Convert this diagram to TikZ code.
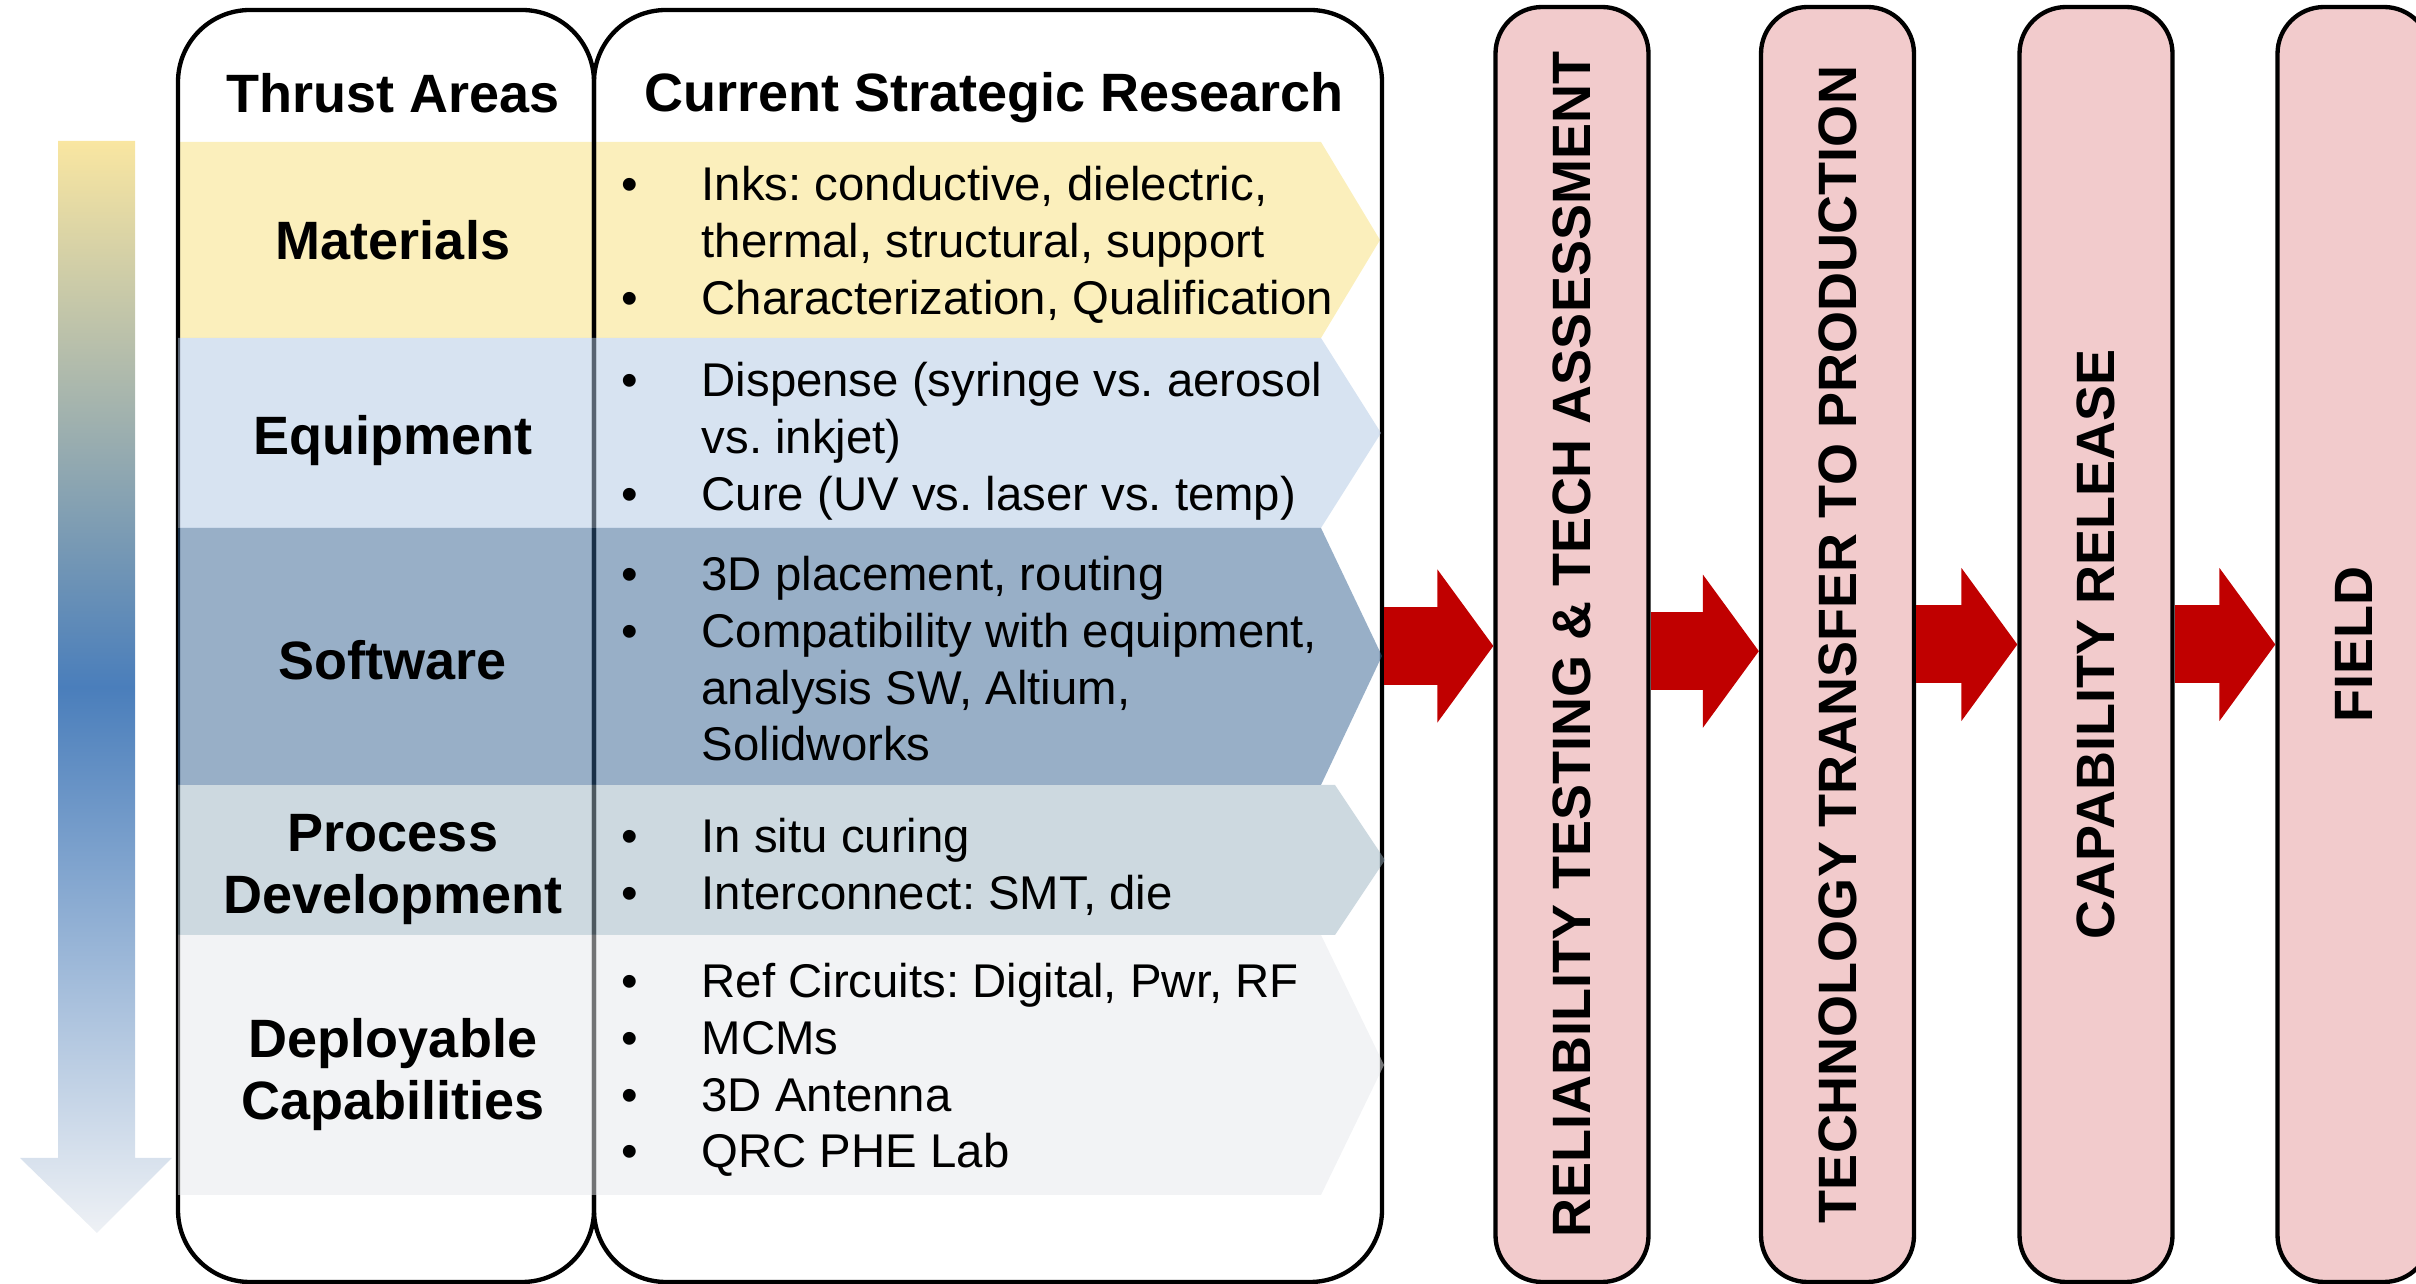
\documentclass[tikz,border=0pt]{standalone}
\usepackage{fontspec}
\setmainfont{Liberation Sans}
\usetikzlibrary{arrows.meta}

\definecolor{matyellow}{HTML}{FBEFBC}
\definecolor{equipblue}{HTML}{AFC7E3}
\definecolor{softblue}{HTML}{315F8F}
\definecolor{procgrey}{HTML}{9BB3C1}
\definecolor{deploygrey}{HTML}{E5E7EB}
\definecolor{barpink}{HTML}{F2CBCC}
\definecolor{flowred}{HTML}{C00000}
\definecolor{gradtop}{HTML}{F9E6A1}
\definecolor{gradmid}{HTML}{4A7EBB}
\definecolor{gradbot}{HTML}{EEF1F5}

\newcommand{\bodyfont}{\fontsize{14.2}{17}\selectfont\frenchspacing}
\newcommand{\headfont}{\fontsize{16.2}{18.6}\selectfont\bfseries}

\tikzset{
  colbox/.style={draw, line width=1.3pt, rounded corners=21.6pt, inner sep=0pt, minimum height=381.6pt},
  barbox/.style={draw, line width=1.3pt, fill=barpink, rounded corners=14pt, inner sep=0pt,
    minimum width=45.9pt, minimum height=382.5pt},
  bartext/.style={rotate=90, font=\headfont, inner sep=0pt},
  areatext/.style={font=\headfont, align=center, inner sep=0pt},
  itemtext/.style={font=\bodyfont, anchor=base west, inner sep=0pt},
  band/.style={fill opacity=0.5},
  flow/.style={draw=flowred, line width=23.4pt,
    -{Triangle[length=16.8pt, width=45.9pt, line width=0.6pt]}},
}

\begin{document}
\begin{tikzpicture}[x=0.3pt, y=-0.3pt]

\path[use as bounding box, clip] (0,0) rectangle (2416,1284);

% arrow on the left
\shade[top color=gradtop, bottom color=gradbot, middle color=gradmid]
  (58,141) -- (135,141) -- (135,1158) -- (172,1158) -- (97,1233) -- (20,1158) -- (58,1158) -- cycle;

% first band sits under the frames
\fill[matyellow] (178,142) -- (1321,142) -- (1380,240) -- (1321,338) -- (178,338) -- cycle;

\node[colbox, minimum width=124.8pt] (thrust) at (386,646) {};
\node[colbox, minimum width=236.4pt] (research) at (988,646) {};

% the other bands are see-through
\fill[equipblue, band] (178,338) -- (1321,338) -- (1381,433) -- (1321,528) -- (178,528) -- cycle;
\fill[softblue, band] (178,528) -- (1321,528) -- (1382,656) -- (1321,785) -- (178,785) -- cycle;
\fill[procgrey, band] (178,785) -- (1335,785) -- (1385,860) -- (1335,935) -- (178,935) -- cycle;
\fill[deploygrey, band] (178,935) -- (1321,935) -- (1384,1065) -- (1321,1195) -- (178,1195) -- cycle;

\node[areatext] (thrusthead) at (393,93) {Thrust Areas};
\node[areatext] (researchhead) at (994,98) {Current Strategic Research};

\node[areatext] (materials) at (393,240) {Materials};
\node[areatext] (equipment) at (393,441) {Equipment};
\node[areatext] (software) at (393,660) {Software};
\node[areatext] (process) at (393,870) {Process\\Development};
\node[areatext] (deployable) at (393,1075) {Deployable\\Capabilities};

\node[itemtext] (matitems) at (621,201) {\begin{tabular}[t]{@{}p{24pt}@{}l@{}}
\textbullet & Inks: conductive, dielectric,\\
 & thermal, structural, support\\
\textbullet & Characterization, Qualification
\end{tabular}};
\node[itemtext] (equipitems) at (621,397) {\begin{tabular}[t]{@{}p{24pt}@{}l@{}}
\textbullet & Dispense (syringe vs. aerosol\\
 & vs. inkjet)\\
\textbullet & Cure (UV vs. laser vs. temp)
\end{tabular}};
\node[itemtext] (softitems) at (621,591) {\begin{tabular}[t]{@{}p{24pt}@{}l@{}}
\textbullet & 3D placement, routing\\
\textbullet & Compatibility with equipment,\\
 & analysis SW, Altium,\\
 & Solidworks
\end{tabular}};
\node[itemtext] (procitems) at (621,853) {\begin{tabular}[t]{@{}p{24pt}@{}l@{}}
\textbullet & In situ curing\\
\textbullet & Interconnect: SMT, die
\end{tabular}};
\node[itemtext] (deployitems) at (621,998) {\begin{tabular}[t]{@{}p{24pt}@{}l@{}}
\textbullet & Ref Circuits: Digital, Pwr, RF\\
\textbullet & MCMs\\
\textbullet & 3D Antenna\\
\textbullet & QRC PHE Lab
\end{tabular}};

% stages
\node[barbox] (relbar) at (1572,644.5) {};
\node[barbox] (techbar) at (1837.5,644.5) {};
\node[barbox] (capbar) at (2096,644.5) {};
\node[barbox] (fieldbar) at (2354,644.5) {};

\node[bartext] (reltext) at (relbar.center) {RELIABILITY TESTING \& TECH ASSESSMENT};
\node[bartext] (techtext) at (techbar.center) {TECHNOLOGY TRANSFER TO PRODUCTION};
\node[bartext] (captext) at (capbar.center) {CAPABILITY RELEASE};
\node[bartext] (fieldtext) at (fieldbar.center) {FIELD};

\draw[flow] (research.east) -- (research.east -| relbar.west);
\draw[flow] ([yshift=-2pt]relbar.east) -- ([yshift=-2pt]relbar.east -| techbar.west);
\draw[flow] (techbar.east) -- (techbar.east -| capbar.west);
\draw[flow] (capbar.east) -- (capbar.east -| fieldbar.west);

\end{tikzpicture}
\end{document}
